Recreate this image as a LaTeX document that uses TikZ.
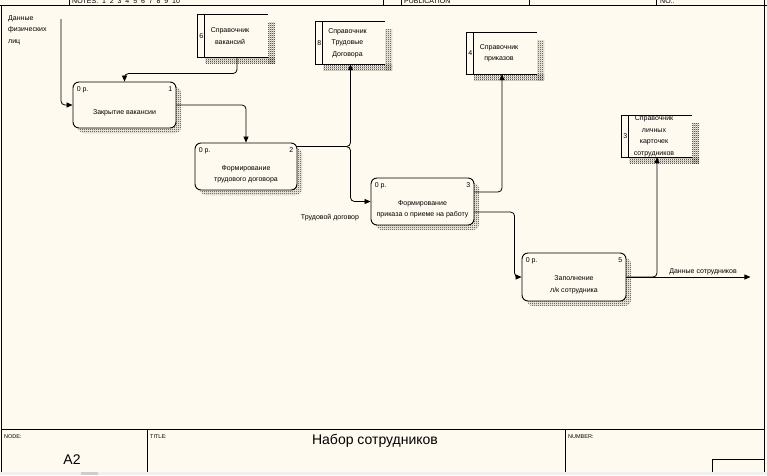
\documentclass[tikz,border=0pt]{standalone}
\usepackage{fontspec}
\setmainfont{Liberation Sans}
\usetikzlibrary{calc}
\usetikzlibrary{fit}
\usetikzlibrary{patterns}
\usetikzlibrary{arrows.meta}
\definecolor{paper}{HTML}{FFFAEF}
\definecolor{barclr}{HTML}{F0F0F0}
\definecolor{thumbclr}{HTML}{CDCDCD}
\pgfdeclarepatternformonly{checker}{\pgfpointorigin}{\pgfpoint{2pt}{2pt}}{\pgfpoint{2pt}{2pt}}{
  \pgfpathrectangle{\pgfpointorigin}{\pgfpoint{1pt}{1pt}}
  \pgfpathrectangle{\pgfpoint{1pt}{1pt}}{\pgfpoint{1pt}{1pt}}
  \pgfusepath{fill}}
\tikzset{
  flow/.style={line width=0.8pt, rounded corners=4pt, -{Triangle[length=6pt,width=5pt]}},
  lbl/.style={font=\fontsize{7}{11.5}\selectfont, align=center, inner sep=0pt},
  frm/.style={line width=0.9pt},
  hatch/.style={pattern=checker, pattern color=black!85},
}
% activity: name, x1, y1, x2, y2, number, text
\newcommand{\actbox}[7]{
  \path[hatch, rounded corners=6pt] ($(#2,#3)+(5,5)$) rectangle ($(#4,#5)+(5,5)$);
  \node[draw, frm, fill=paper, rounded corners=6pt, inner sep=0pt, fit={(#2,#3) (#4,#5)}] (#1) {};
  \node[lbl, anchor=north west] (#1-cost) at ($(#1.north west)+(4,4.5)$) {0 р.};
  \node[lbl, anchor=north east] (#1-num) at ($(#1.north east)+(-4,4.5)$) {#6};
  \node[lbl] (#1-text) at ($(#1.center)+(0,8)$) {#7};
}
% data store: name, x1, y1, x2, y2, number, text
\newcommand{\storebox}[7]{
  \fill[hatch] (#4,#3+7) rectangle (#4+7,#5+6);
  \fill[hatch] (#2+7,#5) rectangle (#4+7,#5+6);
  \node[fill=paper, inner sep=0pt, fit={(#2,#3) (#4,#5)}] (#1) {};
  \draw[frm] (#1.north east) -- (#1.north west) -- (#1.south west) -- (#1.south east);
  \draw[frm] ($(#1.north west)+(7,0)$) -- ($(#1.south west)+(7,0)$);
  \node[lbl] (#1-num) at ($(#1.west)+(3.5,0)$) {#6};
  \node[lbl] (#1-text) at ($(#1.center)+(-3,0)$) {#7};
}

\begin{document}
\begin{tikzpicture}[x=1pt,y=-1pt]
        \useasboundingbox (0,0) rectangle (767,475);
        \fill[paper] (0,0) rectangle (767,475);
        % header
        \begin{scope}
        \clip (0,0) rectangle (767,5);
        \node[font=\fontsize{7}{8}\selectfont, anchor=base west, inner sep=0pt] (hdr-notes) at (72,3) {NOTES:\ \ 1\ \ 2\ \ 3\ \ 4\ \ 5\ \ 6\ \ 7\ \ 8\ \ 9\ \ 10};
        \node[font=\fontsize{7}{8}\selectfont, anchor=base west, inner sep=0pt] (hdr-pub) at (404,3) {PUBLICATION};
        \node[font=\fontsize{7}{8}\selectfont, anchor=base west, inner sep=0pt] (hdr-no) at (660,3) {NO.:};
        \end{scope}
        \draw[frm] (0,5) -- (767,5);
        \foreach \hx in {69,383,401,529,656}
            \draw[frm] (\hx,0) -- (\hx,5);
        % frame
        \draw[frm] (1.5,5) -- (1.5,472);
        \draw[frm] (764,0) -- (764,472);
        \draw[frm] (1.5,429) -- (764,429);
        \draw[frm] (147,429) -- (147,472);
        \draw[frm] (565,429) -- (565,472);
        \draw[frm] (712,472) -- (712,459) -- (764,459);
        % footer texts
        \node[font=\fontsize{5.5}{6}\selectfont, anchor=west, inner sep=0pt] (ft-node) at (4,437) {NODE:};
        \node[font=\fontsize{14}{16}\selectfont, inner sep=0pt] (ft-a2) at (72,460) {A2};
        \node[font=\fontsize{5.5}{6}\selectfont, anchor=west, inner sep=0pt] (ft-title) at (150,437) {TITLE:};
        \node[font=\fontsize{14}{16}\selectfont, inner sep=0pt] (ft-name) at (375,441) {Набор сотрудников};
        \node[font=\fontsize{5.5}{6}\selectfont, anchor=west, inner sep=0pt] (ft-num) at (568,437) {NUMBER:};
        % scroll bar
        \fill[barclr] (0,472) rectangle (767,475);
        \fill[thumbclr] (81,472) rectangle (98,475);
        % stores
        \storebox{st6}{198}{15}{268}{57}{6}{Справочник\\вакансий}
        \storebox{st8}{316}{22}{385}{64}{8}{Справочник\\Трудовые\\Договора}
        \storebox{st4}{467}{33}{537}{74}{4}{Справочник\\приказов}
        \storebox{st3}{622}{116}{692}{157}{3}{Справочник\\личных\\карточек\\сотрудников}
        % activities
        \actbox{box1}{73}{82}{176}{128}{1}{Закрытие вакансии}
        \actbox{box2}{195}{143}{297}{190}{2}{Формирование\\трудового договора}
        \actbox{box3}{371}{178}{474}{225}{3}{Формирование\\приказа о приеме на работу}
        \actbox{box5}{522}{253}{626}{301}{5}{Заполнение\\л/к сотрудника}
        % arrows
        \coordinate (in1) at (61,19);
        \coordinate (out5) at ($(box5.east)+(124,0)$);
        \draw[flow] (in1) |- (box1.west);
        \draw[flow] ($(st6.south)+(4,0)$) |- ($(box1.north)+(0,-8)$) -- (box1.north);
        \draw[flow] (box1.east) -| (box2.north);
        \draw[flow] ($(box2.north east)+(0,4)$) -| (st8.south);
        \draw[flow] ($(box2.north east)+(0,4)$) -| (st8.south |- box3.west) -- (box3.west);
        \draw[flow] ($(box3.east)+(0,-9.5)$) -| (st4.south);
        \draw[flow] ($(box3.east)+(0,10.5)$) -| ($(box5.west)+(-7,0)$) -- (box5.west);
        \draw[flow] (box5.east) -- (out5);
        \draw[flow] (box5.east) -| (st3.south);
        % labels
        \node[lbl, align=left, anchor=north west] (lbl-in) at (8,15) {Данные\\физических\\лиц};
        \node[lbl] (lbl-dog) at (330,218) {Трудовой договор};
        \node[lbl] (lbl-out) at (703,272) {Данные сотрудников};
    \end{tikzpicture}
\end{document}
